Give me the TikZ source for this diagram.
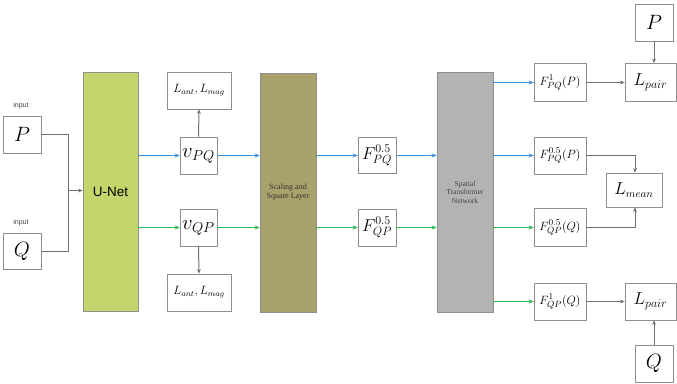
\documentclass[tikz,border=0pt]{standalone}
\usepackage{fontspec}
\setsansfont{Liberation Sans}
\newfontfamily\tms{Liberation Serif}
\usetikzlibrary{arrows.meta}
\definecolor{boxline}{HTML}{8F8F8F}
\definecolor{conn}{HTML}{707070}
\definecolor{bl}{HTML}{3A8EDC}
\definecolor{gr}{HTML}{2CBA52}
\definecolor{unetfill}{HTML}{C3D66B}
\definecolor{sslfill}{HTML}{A9A16B}
\definecolor{stnfill}{HTML}{B3B3B3}
\begin{document}
\begin{tikzpicture}[x=1pt,y=-1pt,
  bx/.style={draw=boxline,line width=0.8pt,fill=white,inner sep=0pt,minimum width=#1},
  bx/.default=38pt,
  tall/.style={draw=boxline,line width=0.8pt,inner sep=0pt,minimum width=55pt,minimum height=239pt},
  arr/.style={line width=1pt,-{Stealth[length=4.5pt,width=3.8pt]}},
  carr/.style={arr,line width=1.2pt,draw=#1,fill=#1,-{Stealth[length=5pt,width=4.2pt]}},
  ln/.style={line width=1pt,conn},
  lab/.style={font=\sffamily\fontsize{7}{8}\selectfont,text=black!75}]
\useasboundingbox (0,0) rectangle (677,383);
% inputs
\node[bx,minimum height=37pt] (P) at (22,134.5) {\fontsize{22}{24}\selectfont$P$};
\node[bx,minimum height=36pt] (Q) at (22,251) {\fontsize{22}{24}\selectfont$Q$};
\node[lab] (inP) at (21,106) {input};
\node[lab] (inQ) at (21,223) {input};
% big blocks
\node[tall,fill=unetfill,font=\sffamily\fontsize{13.5}{15}\selectfont] (UN) at (110.5,191.5) {U-Net};
\node[tall,fill=sslfill,minimum width=56pt,align=center,text=black!80,font=\tms\fontsize{8}{9}\selectfont] (SSL) at (288,192.5) {Scaling and\\Square Layer};
\node[tall,fill=stnfill,minimum width=56pt,minimum height=240pt,align=center,text=black!75,font=\tms\fontsize{7.5}{8.5}\selectfont] (STN) at (465,192) {Spatial\\Transformer\\Network};
% velocity
\node[bx=37pt,minimum height=37pt] (vPQ) at (198.5,155.5) {\fontsize{20}{22}\selectfont$v_{PQ}$};
\node[bx=37pt,minimum height=37pt] (vQP) at (198.5,227.5) {\fontsize{20}{22}\selectfont$v_{QP}$};
\node[bx=64pt,minimum height=37pt] (La1) at (199,90.5) {\fontsize{12}{14}\selectfont$L_{ant},L_{mag}$};
\node[bx=64pt,minimum height=37pt] (La2) at (199,292.5) {\fontsize{12}{14}\selectfont$L_{ant},L_{mag}$};
% half fields
\node[bx=38pt,minimum height=36pt] (FPQ) at (377,155.5) {\fontsize{18}{20}\selectfont$F^{0.5}_{PQ}$};
\node[bx=38pt,minimum height=37pt] (FQP) at (377,227.5) {\fontsize{18}{20}\selectfont$F^{0.5}_{QP}$};
% outputs
\node[bx=52pt,minimum height=38pt] (F1P) at (560,82.5) {\fontsize{12.5}{14}\selectfont$F^{1}_{PQ}(P)$};
\node[bx=52pt,minimum height=37pt] (F5P) at (560,155.5) {\fontsize{12.5}{14}\selectfont$F^{0.5}_{PQ}(P)$};
\node[bx=52pt,minimum height=38pt] (F5Q) at (560,227.5) {\fontsize{12.5}{14}\selectfont$F^{0.5}_{QP}(Q)$};
\node[bx=52pt,minimum height=37pt] (F1Q) at (560,301.5) {\fontsize{12.5}{14}\selectfont$F^{1}_{QP}(Q)$};
\node[bx=51pt,minimum height=38pt] (Lp1) at (650.5,82.5) {\fontsize{17}{19}\selectfont$L_{pair}$};
\node[bx=51pt,minimum height=37pt] (Lp2) at (650.5,301.5) {\fontsize{17}{19}\selectfont$L_{pair}$};
\node[bx=56pt,minimum height=34pt] (Lm) at (634,190) {\fontsize{16}{18}\selectfont$L_{mean}$};
\node[bx=38pt,minimum height=37pt] (Pt) at (654,22.5) {\fontsize{22}{24}\selectfont$P$};
\node[bx=38pt,minimum height=37pt] (Qb) at (654,363.5) {\fontsize{22}{24}\selectfont$Q$};
% input connectors
\coordinate (J) at (68.5,190.5);
\draw[ln] (P.east) -| (J);
\draw[ln] (Q.east) -| (J);
\draw[arr,conn] (J) -- (J -| UN.west);
% blue path
\draw[carr=bl] (vPQ.west -| UN.east) -- (vPQ.west);
\draw[carr=bl] (vPQ.east) -- (vPQ.east -| SSL.west);
\draw[carr=bl] (FPQ.west -| SSL.east) -- (FPQ.west);
\draw[carr=bl] (FPQ.east) -- (FPQ.east -| STN.west);
\draw[carr=bl] (F1P.west -| STN.east) -- (F1P.west);
\draw[carr=bl] (F5P.west -| STN.east) -- (F5P.west);
% green path
\draw[carr=gr] (vQP.west -| UN.east) -- (vQP.west);
\draw[carr=gr] (vQP.east) -- (vQP.east -| SSL.west);
\draw[carr=gr] (FQP.west -| SSL.east) -- (FQP.west);
\draw[carr=gr] (FQP.east) -- (FQP.east -| STN.west);
\draw[carr=gr] (F5Q.west -| STN.east) -- (F5Q.west);
\draw[carr=gr] (F1Q.west -| STN.east) -- (F1Q.west);
% losses
\draw[arr,conn] (vPQ.north) -- (La1.south);
\draw[arr,conn] (vQP.south) -- (La2.north);
\draw[arr,conn] (F1P.east) -- (Lp1.west);
\draw[arr,conn] (F1Q.east) -- (Lp2.west);
\draw[arr,conn] (Pt.south) -- (Pt.south |- Lp1.north);
\draw[arr,conn] (Qb.north) -- (Qb.north |- Lp2.south);
\draw[arr,conn] (F5P.east) -| ([xshift=1pt]Lm.north);
\draw[arr,conn] (F5Q.east) -| ([xshift=1pt]Lm.south);
\end{tikzpicture}
\end{document}
